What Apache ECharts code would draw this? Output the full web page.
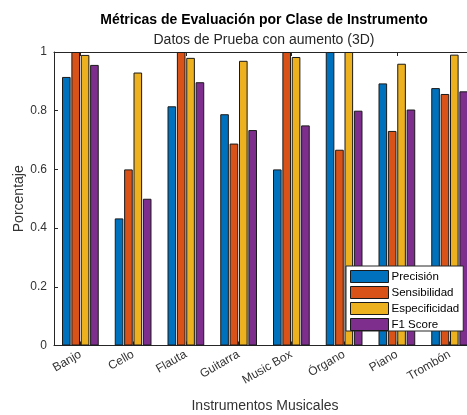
<!DOCTYPE html>
<html>
<head>
<meta charset="utf-8">
<script src="https://cdn.jsdelivr.net/npm/echarts@6/dist/echarts.min.js"></script>
<style>
  html, body { margin: 0; padding: 0; background: #fff; }
  #chart { width: 467px; height: 415px; }
</style>
</head>
<body>
<div id="chart"></div>
<script>
// Instrument classes on the x axis
const instrumentos = ['Banjo', 'Cello', 'Flauta', 'Guitarra', 'Music Box', 'Órgano', 'Piano', 'Trombón'];

// Per-class metrics on the augmented test set
const precision     = [0.915, 0.433, 0.815, 0.788, 0.600, 1.000, 0.893, 0.877];
const sensibilidad  = [1.000, 0.600, 1.000, 0.688, 1.000, 0.667, 0.731, 0.857];
const especificidad = [0.990, 0.930, 0.980, 0.970, 0.983, 1.000, 0.960, 0.991];
const f1Score       = [0.956, 0.500, 0.897, 0.734, 0.750, 0.800, 0.804, 0.866];

const metricNames = ['Precisión', 'Sensibilidad', 'Especificidad', 'F1 Score'];
const metricValues = [precision, sensibilidad, especificidad, f1Score];
const metricColors = ['#0072BD', '#D95319', '#EDB120', '#7E2F8E'];

const yTicks = [0, 0.2, 0.4, 0.6, 0.8, 1];

const FONT = '"Liberation Sans", Arial, sans-serif';
const AXIS_COLOR = '#262626';
const EDGE_COLOR = '#1a1a1a';

const chart = echarts.init(document.getElementById('chart'), null, { renderer: 'canvas' });

const series = metricNames.map((name, i) => ({
  name: name,
  type: 'bar',
  data: metricValues[i],
  barWidth: 8.6,
  barGap: '9%',
  itemStyle: { color: metricColors[i], borderColor: EDGE_COLOR, borderWidth: 1 },
  emphasis: { disabled: true }
}));

chart.setOption({
  animation: false,
  backgroundColor: '#ffffff',
  textStyle: { fontFamily: FONT },
  title: [
    {
      text: 'Métricas de Evaluación por Clase de Instrumento',
      left: 259, top: 8, textAlign: 'center',
      textStyle: { fontFamily: FONT, fontSize: 14, fontWeight: 'bold', color: '#000' }
    },
    {
      text: 'Datos de Prueba con aumento (3D)',
      left: 259, top: 28, textAlign: 'center',
      textStyle: { fontFamily: FONT, fontSize: 14, fontWeight: 'normal', color: '#262626' }
    }
  ],
  grid: { left: 54, top: 52, width: 422, height: 293.5, containLabel: false, outerBoundsMode: 'none' },
  legend: {
    orient: 'vertical',
    left: 346, top: 266,
    data: metricNames,
    icon: 'rect',
    itemWidth: 38, itemHeight: 12, itemGap: 3,
    padding: [4, 4, 0, 4],
    backgroundColor: '#ffffff',
    borderColor: AXIS_COLOR, borderWidth: 1,
    selectedMode: false,
    itemStyle: { borderColor: EDGE_COLOR, borderWidth: 1 },
    textStyle: { fontFamily: FONT, fontSize: 11.5, lineHeight: 12, color: '#000', padding: [0, 0, 0, -2] }
  },
  xAxis: [
    {
      type: 'category',
      data: instrumentos,
      position: 'bottom',
      name: 'Instrumentos Musicales',
      nameLocation: 'middle',
      nameGap: 54,
      nameMoveOverlap: false,
      nameTextStyle: { fontFamily: FONT, fontSize: 14, color: '#333' },
      axisLine: { lineStyle: { color: AXIS_COLOR, width: 1 } },
      axisTick: { show: true, inside: true, alignWithLabel: true, length: 4, lineStyle: { color: AXIS_COLOR } },
      axisLabel: { rotate: 30, fontFamily: FONT, fontSize: 12, color: '#333', margin: 8 },
      splitLine: { show: false }
    },
    {
      type: 'category',
      data: instrumentos,
      position: 'top',
      axisLine: { lineStyle: { color: AXIS_COLOR, width: 1 } },
      axisTick: { show: true, inside: true, alignWithLabel: true, length: 4, lineStyle: { color: AXIS_COLOR } },
      axisLabel: { show: false },
      splitLine: { show: false }
    }
  ],
  yAxis: {
    type: 'value',
    min: yTicks[0],
    max: yTicks[yTicks.length - 1],
    interval: 0.2,
    name: 'Porcentaje',
    nameLocation: 'middle',
    nameGap: 28,
    nameMoveOverlap: false,
    nameTextStyle: { fontFamily: FONT, fontSize: 14, color: '#333' },
    axisLine: { show: true, lineStyle: { color: AXIS_COLOR, width: 1 } },
    axisTick: { show: true, inside: true, length: 4, lineStyle: { color: AXIS_COLOR } },
    axisLabel: {
      fontFamily: FONT, fontSize: 12, color: '#333', margin: 7,
      formatter: v => (v === 0 || v === 1) ? String(v) : v.toFixed(1)
    },
    splitLine: { show: false }
  },
  series: series
});
</script>
</body>
</html>
